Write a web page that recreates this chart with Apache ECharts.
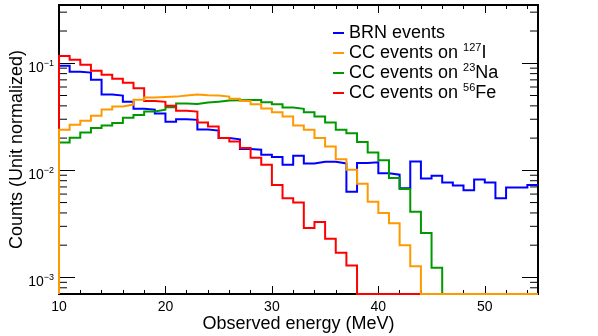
<!DOCTYPE html>
<html>
<head>
<meta charset="utf-8">
<title>Observed energy spectra</title>
<script src="https://cdn.jsdelivr.net/npm/echarts@6/dist/echarts.min.js"></script>
<style>
  html, body { margin: 0; padding: 0; background: #fff; }
  #chart { width: 598px; height: 336px; }
</style>
</head>
<body>
<div id="chart"></div>
<script>
// 1 MeV bins from 10 to 55 MeV, log y axis
const E_MIN = 10;
const E_MAX = 55;
const Y_MIN = 7e-4;
const Y_MAX = 0.35;

// unit normalized counts per bin (0 = empty bin)
const brn = [
  0.0950, 0.0835, 0.0818, 0.0703, 0.0510, 0.0499, 0.0438, 0.0375, 0.0369, 0.0339,
  0.0285, 0.0300, 0.0296, 0.0240, 0.0235, 0.0200, 0.0195, 0.0158, 0.0156, 0.0140,
  0.0133, 0.0113, 0.0137, 0.0116, 0.0120, 0.0120, 0.0116, 0.0063, 0.0117, 0.0119,
  0.0094, 0.0091, 0.0068, 0.0121, 0.0084, 0.0089, 0.0077, 0.0072, 0.0065, 0.0082,
  0.0077, 0.0055, 0.0069, 0.0069, 0.0073
];
const ccI = [
  0.0239, 0.0266, 0.0290, 0.0324, 0.0369, 0.0394, 0.0411, 0.0457, 0.0478, 0.0485,
  0.0488, 0.0499, 0.0510, 0.0503, 0.0499, 0.0488, 0.0465, 0.0445, 0.0414, 0.0377,
  0.0349, 0.0318, 0.0262, 0.0239, 0.0200, 0.0167, 0.0127, 0.0101, 0.0075, 0.0051,
  0.0040, 0.0032, 0.0020, 0.00127, 0, 0, 0, 0, 0, 0,
  0, 0, 0, 0, 0
];
const ccNa = [
  0.0182, 0.0202, 0.0225, 0.0249, 0.0262, 0.0277, 0.0309, 0.0329, 0.0354, 0.0369,
  0.0389, 0.0420, 0.0417, 0.0429, 0.0438, 0.0448, 0.0451, 0.0455, 0.0455, 0.0433,
  0.0414, 0.0387, 0.0375, 0.0348, 0.0318, 0.0280, 0.0239, 0.0222, 0.0184, 0.0147,
  0.0124, 0.0085, 0.0067, 0.0041, 0.0026, 0.00123, 0, 0, 0, 0,
  0, 0, 0, 0, 0
];
const ccFe = [
  0.117, 0.108, 0.0971, 0.0853, 0.0783, 0.0718, 0.0659, 0.0584, 0.0445, 0.0436,
  0.0400, 0.0361, 0.0354, 0.0279, 0.0256, 0.0200, 0.0186, 0.0162, 0.0131, 0.0113,
  0.0073, 0.0055, 0.0050, 0.0029, 0.0033, 0.0023, 0.0017, 0.00129, 0, 0,
  0, 0, 0, 0, 0, 0, 0, 0, 0, 0,
  0, 0, 0, 0, 0
];

const seriesNames = ['BRN events', 'CC events on 127I', 'CC events on 23Na', 'CC events on 56Fe'];
const massNumbers = ['', '127', '23', '56'];
const targets = ['', 'I', 'Na', 'Fe'];
const colors = ['#0000ff', '#ff9900', '#009900', '#ff0000'];

const yMinorTicks = [
  8e-4, 9e-4,
  2e-3, 3e-3, 4e-3, 5e-3, 6e-3, 7e-3, 8e-3, 9e-3,
  2e-2, 3e-2, 4e-2, 5e-2, 6e-2, 7e-2, 8e-2, 9e-2,
  2e-1, 3e-1
];

const FONT = '"Liberation Sans", Arial, Helvetica, sans-serif';
const MAJOR_LEN = 16;
const MINOR_LEN = 8;

// histogram outline: start at the bottom of the frame, one point per bin edge
function histData(values) {
  const pts = [[E_MIN, Y_MIN]];
  values.forEach((v, i) => pts.push([E_MIN + i, v > 0 ? v : Y_MIN]));
  const last = values[values.length - 1];
  pts.push([E_MAX, last > 0 ? last : Y_MIN]);
  return pts;
}

function histSeries(idx, values) {
  return {
    name: seriesNames[idx],
    type: 'line',
    step: 'end',
    symbol: 'none',
    z: 3,
    data: histData(values),
    lineStyle: {color: colors[idx], width: 2, join: 'miter', cap: 'butt'},
    itemStyle: {color: colors[idx]}
  };
}

function xAxisDef(position, interval, tickLen) {
  return {
    type: 'value',
    position: position,
    min: E_MIN,
    max: E_MAX,
    interval: interval,
    axisLine: {show: false},
    axisTick: {show: true, inside: true, length: tickLen, lineStyle: {color: '#000', width: 1}},
    axisLabel: {show: false},
    splitLine: {show: false}
  };
}

const chart = echarts.init(document.getElementById('chart'), null, {renderer: 'canvas'});

const bottomMajor = xAxisDef('bottom', 10, 8);
bottomMajor.axisLabel = {
  show: true,
  showMaxLabel: false,
  margin: 6,
  color: '#000',
  fontFamily: FONT,
  fontSize: 14
};
bottomMajor.name = 'Observed energy (MeV)';
bottomMajor.nameLocation = 'middle';
bottomMajor.nameGap = 21;
bottomMajor.nameMoveOverlap = false;
bottomMajor.nameTextStyle = {color: '#000', fontFamily: FONT, fontSize: 18};

function yAxisDef(position, showLabels) {
  return {
    type: 'log',
    position: position,
    min: Y_MIN,
    max: Y_MAX,
    axisLine: {show: false},
    axisTick: {show: true, inside: true, length: MAJOR_LEN, lineStyle: {color: '#000', width: 1}},
    splitLine: {show: false},
    axisLabel: showLabels ? {
      show: true,
      showMinLabel: false,
      showMaxLabel: false,
      margin: 5,
      padding: [9, 0, 0, 0],
      formatter: (v) => '{b|10}{s|\u2212' + Math.round(-Math.log10(v)) + '}',
      rich: {
        b: {fontFamily: FONT, fontSize: 14, lineHeight: 18, color: '#000'},
        s: {fontFamily: FONT, fontSize: 9, lineHeight: 9, verticalAlign: 'top', color: '#000'}
      }
    } : {show: false}
  };
}

const leftAxis = yAxisDef('left', true);
leftAxis.name = 'Counts (Unit normalized)';
leftAxis.nameLocation = 'middle';
leftAxis.nameGap = 33;
leftAxis.nameMoveOverlap = false;
leftAxis.nameTextStyle = {color: '#000', fontFamily: FONT, fontSize: 18};

chart.setOption({
  animation: false,
  backgroundColor: '#fff',
  grid: {
    left: 59, top: 5, width: 479, height: 289,
    containLabel: false,
    outerBoundsMode: 'none',
    show: true, borderColor: '#000', borderWidth: 2, backgroundColor: 'transparent'
  },
  legend: {
    orient: 'vertical',
    left: 333,
    top: 24,
    padding: 0,
    icon: 'rect',
    itemWidth: 11,
    itemHeight: 2,
    itemGap: 0,
    selectedMode: false,
    data: seriesNames,
    formatter: (name) => {
      const i = seriesNames.indexOf(name);
      if (!massNumbers[i]) return '{t|' + name + '}';
      return '{t|CC events on }{s|' + massNumbers[i] + '}{t|' + targets[i] + '}';
    },
    textStyle: {
      color: '#000',
      fontFamily: FONT,
      fontSize: 18,
      rich: {
        t: {fontFamily: FONT, fontSize: 18, lineHeight: 22, color: '#000'},
        s: {fontFamily: FONT, fontSize: 11, lineHeight: 10, verticalAlign: 'top', color: '#000'}
      }
    }
  },
  xAxis: [
    bottomMajor,
    xAxisDef('bottom', 2, 4),
    xAxisDef('top', 10, 8),
    xAxisDef('top', 2, 4)
  ],
  yAxis: [
    leftAxis,
    yAxisDef('right', false)
  ],
  series: [
    histSeries(0, brn),
    histSeries(2, ccNa),
    histSeries(3, ccFe),
    histSeries(1, ccI),
    {
      // minor log ticks on the left and right frame
      type: 'custom',
      silent: true,
      z: 1,
      data: yMinorTicks.map(v => [E_MIN, v]),
      renderItem: (params, api) => {
        const left = api.coord([E_MIN, api.value(1)]);
        const right = api.coord([E_MAX, api.value(1)]);
        const style = {stroke: '#000', lineWidth: 1};
        return {
          type: 'group',
          children: [
            {type: 'line', shape: {x1: left[0], y1: left[1], x2: left[0] + MINOR_LEN, y2: left[1]}, style: style},
            {type: 'line', shape: {x1: right[0] - MINOR_LEN, y1: right[1], x2: right[0], y2: right[1]}, style: style}
          ]
        };
      }
    }
  ]
});

window.addEventListener('resize', () => chart.resize());
</script>
</body>
</html>
